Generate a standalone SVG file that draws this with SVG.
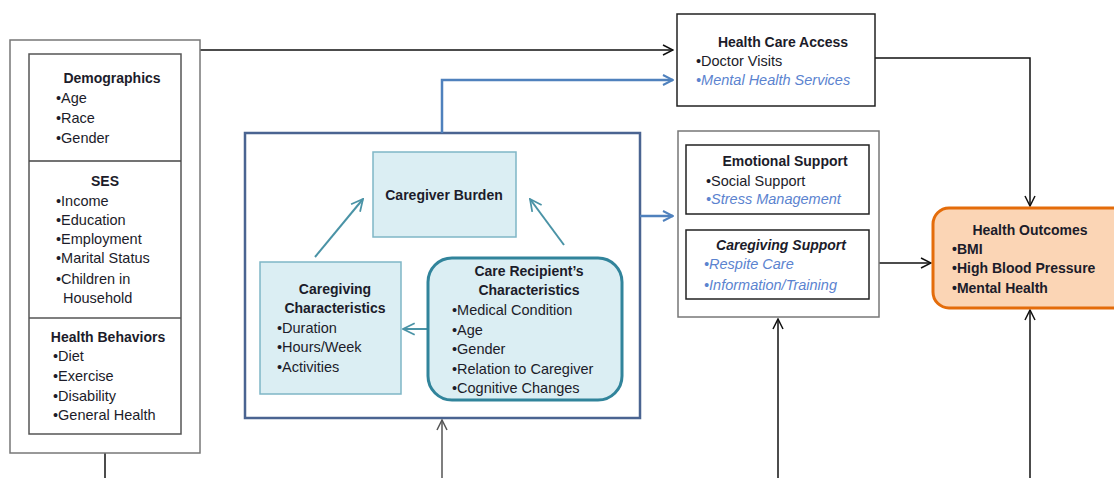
<svg xmlns="http://www.w3.org/2000/svg" width="1114" height="478" viewBox="0 0 1114 478">
<defs>
<style>
text{font-family:"Liberation Sans",Arial,sans-serif;font-size:14.5px;fill:#1c1c2a}
.t{font-weight:bold;text-anchor:middle;font-size:14px}
.c{text-anchor:middle}
.bi{font-weight:bold;font-style:italic;text-anchor:middle;font-size:14px}
.it{font-style:italic;fill:#5b83cf}
.b{font-weight:bold;font-size:14px}
.box{fill:#fff;stroke:#222;stroke-width:1.5}
.gbox{fill:#fff;stroke:#777;stroke-width:1.5}
.ln{fill:none;stroke:#111;stroke-width:1.5}
.bl{fill:none;stroke:#4f81bd;stroke-width:2.5}
.tl{fill:none;stroke:#4a93a6;stroke-width:2}
</style>
<marker id="ab" viewBox="0 0 12 12" refX="11" refY="6" markerWidth="12" markerHeight="12" markerUnits="userSpaceOnUse" orient="auto"><path d="M1,1 L11,6 L1,11" fill="none" stroke="#111" stroke-width="1.5"/></marker>
<marker id="ag" viewBox="0 0 12 12" refX="11" refY="6" markerWidth="12" markerHeight="12" markerUnits="userSpaceOnUse" orient="auto"><path d="M1,1 L11,6 L1,11" fill="none" stroke="#555" stroke-width="1.5"/></marker>
<marker id="abl" viewBox="0 0 12 12" refX="11" refY="6" markerWidth="12" markerHeight="12" markerUnits="userSpaceOnUse" orient="auto"><path d="M1,1 L11,6 L1,11" fill="none" stroke="#4f81bd" stroke-width="2"/></marker>
<marker id="at" viewBox="0 0 12 12" refX="11" refY="6" markerWidth="14" markerHeight="14" markerUnits="userSpaceOnUse" orient="auto"><path d="M1,1 L11,6 L1,11" fill="none" stroke="#4a93a6" stroke-width="1.5"/></marker>
</defs>
<rect width="1114" height="478" fill="#fff"/>

<g id="caregiving-context">
<rect x="245" y="133" width="395" height="285" fill="#fff" stroke="#4a6491" stroke-width="2.5"/>
</g>

<g id="connectors">
<path class="ln" d="M200,50 L673,50" marker-end="url(#ab)"/>
<path class="bl" d="M442,133 L442,80 L673,80" marker-end="url(#abl)"/>
<path class="bl" d="M640,216 L673,216" marker-end="url(#abl)"/>
<path class="ln" d="M875,58 L1030,58 L1030,206" marker-end="url(#ab)"/>
<path class="ln" d="M879,263 L931,263" marker-end="url(#ab)"/>
<path class="ln" d="M1030,478 L1030,310" marker-end="url(#ab)"/>
<path class="ln" d="M778,478 L778,319" marker-end="url(#ab)"/>
<path d="M442,478 L442,420" fill="none" stroke="#555" stroke-width="1.5" marker-end="url(#ag)"/>
<path class="ln" d="M105,453 L105,478"/>
<path class="tl" d="M315,257 L363,199" marker-end="url(#at)"/>
<path class="tl" d="M564,245 L530,199" marker-end="url(#at)"/>
<path class="tl" d="M428,329 L403,329" marker-end="url(#at)"/>
</g>

<g id="left-factors">
<rect class="gbox" x="10" y="40" width="190" height="413" stroke="#444"/>
<rect x="29" y="54" width="152" height="380" fill="#fff" stroke="#555" stroke-width="1.5"/>
<line x1="29" y1="161" x2="181" y2="161" stroke="#444" stroke-width="1.5"/>
<line x1="29" y1="318" x2="181" y2="318" stroke="#555" stroke-width="1.5"/>
</g>
<g id="demographics">
<text class="t" x="112" y="83">Demographics</text>
<text x="56" y="103">•Age</text>
<text x="56" y="123">•Race</text>
<text x="56" y="143">•Gender</text>
</g>
<g id="ses">
<text class="t" x="105" y="186">SES</text>
<text x="56" y="206">•Income</text>
<text x="56" y="225">•Education</text>
<text x="56" y="244">•Employment</text>
<text x="56" y="263">•Marital Status</text>
<text x="56" y="284">•Children in</text>
<text x="63" y="303">Household</text>
</g>
<g id="health-behaviors">
<text class="t" x="108" y="342">Health Behaviors</text>
<text x="53" y="361">•Diet</text>
<text x="53" y="381">•Exercise</text>
<text x="53" y="401">•Disability</text>
<text x="53" y="420">•General Health</text>
</g>

<g id="caregiver-burden">
<rect x="373" y="152" width="143" height="85" fill="#dbeef3" stroke="#7fb6c6" stroke-width="1.5"/>
<text class="t" x="444" y="200">Caregiver Burden</text>
</g>
<g id="caregiving-characteristics">
<rect x="260" y="262" width="141" height="132" fill="#dbeef3" stroke="#7fb6c6" stroke-width="1.5"/>
<text class="t" x="335" y="294">Caregiving</text>
<text class="t" x="335" y="313">Characteristics</text>
<text x="277" y="333">•Duration</text>
<text x="277" y="352">•Hours/Week</text>
<text x="277" y="372">•Activities</text>
</g>
<g id="care-recipient">
<rect x="428" y="258" width="194" height="142" rx="24" fill="#dbeef3" stroke="#31849b" stroke-width="3"/>
<text class="t" x="529" y="276">Care Recipient’s</text>
<text class="t" x="529" y="295">Characteristics</text>
<text x="452" y="315">•Medical Condition</text>
<text x="452" y="335">•Age</text>
<text x="452" y="354">•Gender</text>
<text x="452" y="374">•Relation to Caregiver</text>
<text x="452" y="393">•Cognitive Changes</text>
</g>

<g id="health-care-access">
<rect class="box" x="677" y="14" width="198" height="92"/>
<text class="t" x="783" y="47">Health Care Access</text>
<text x="696" y="66">•Doctor Visits</text>
<text class="it" x="696" y="85">•Mental Health Services</text>
</g>
<g id="support">
<rect class="gbox" x="678" y="131" width="201" height="186"/>
</g>
<g id="emotional-support">
<rect class="box" x="686" y="145" width="183" height="69"/>
<text class="t" x="785" y="166">Emotional Support</text>
<text x="706" y="186">•Social Support</text>
<text class="it" x="706" y="204">•Stress Management</text>
</g>
<g id="caregiving-support">
<rect class="box" x="686" y="230" width="183" height="69"/>
<text class="bi" x="781" y="250">Caregiving Support</text>
<text class="it" x="704" y="269">•Respite Care</text>
<text class="it" x="704" y="290">•Information/Training</text>
</g>
<g id="health-outcomes">
<rect x="933" y="208" width="200" height="100" rx="16" fill="#fbd5b5" stroke="#e46c0a" stroke-width="3"/>
<text class="t" x="1030" y="235">Health Outcomes</text>
<text class="b" x="952" y="254">•BMI</text>
<text class="b" x="952" y="273">•High Blood Pressure</text>
<text class="b" x="952" y="293">•Mental Health</text>
</g>
</svg>
